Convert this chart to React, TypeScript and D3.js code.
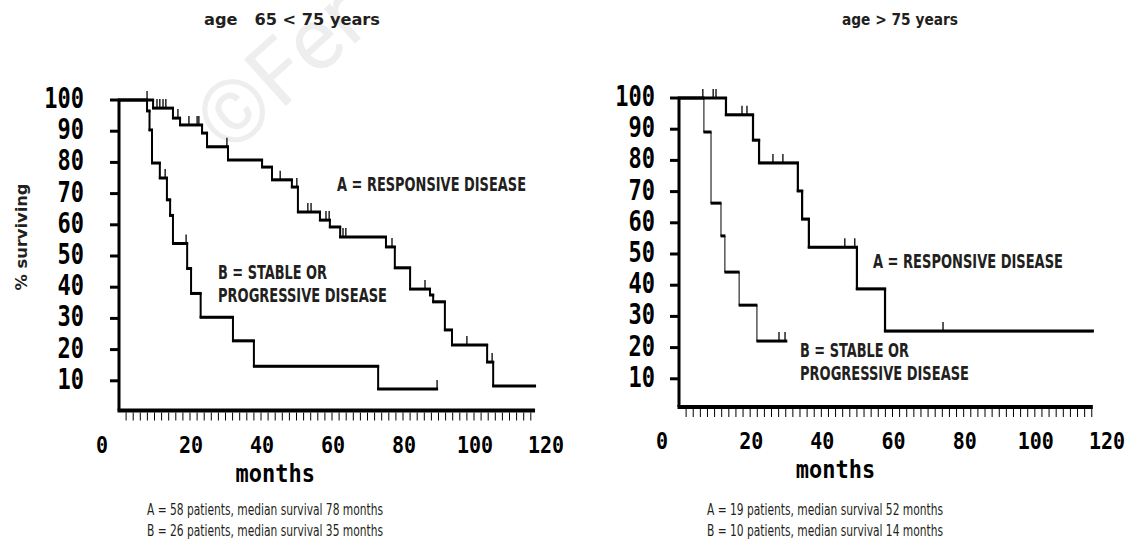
import React, { useEffect, useRef } from "react";
import * as d3 from "d3";

const W = 1131;
const H = 545;

const monthTicks = [0, 20, 40, 60, 80, 100, 120];
const pctTicks = [10, 20, 30, 40, 50, 60, 70, 80, 90, 100];

// age 65 < 75 years
const leftATimes = [9.6, 15.2, 17.2, 23.4, 24.8, 30.7, 40.3, 43.1, 48.7, 50.4, 56.6, 59.4, 62.3, 75.2, 77.7, 82, 87.6, 88.5, 91.8, 93.8, 103.7, 105.4];
const leftASurv = [97.4, 94.2, 92, 89.4, 85, 80.8, 78.5, 74.4, 72.1, 64.1, 61.5, 59.3, 56.1, 52.9, 46.2, 39.4, 37.5, 35.3, 26.3, 21.5, 16, 8.3];
const leftACensor = [7.9, 10.7, 11.5, 12.4, 13.2, 16.6, 19.7, 22, 22.5, 30.4, 45.4, 50.1, 53.2, 54.1, 58.3, 59.2, 63.1, 63.9, 76.9, 86.2, 98, 105.1];
const leftAEnd = 117.2;

const leftBTimes = [7.9, 8.6, 9.3, 11.5, 13.5, 14.4, 15.2, 19.2, 20.3, 23, 32.1, 38, 73];
const leftBSurv = [96.5, 90.4, 79.8, 75, 68, 63, 54, 46, 38, 30.4, 22.8, 14.7, 7.4];
const leftBCensor = [13, 18.9, 89.6];
const leftBEnd = 89.6;

// age > 75 years
const rightATimes = [13.2, 20.8, 22.5, 33.4, 34.6, 36.5, 50, 57.9];
const rightASurv = [94.6, 86.5, 79.2, 70.2, 61.2, 52.2, 38.8, 25.3];
const rightACensor = [6.7, 9.6, 10.4, 17.7, 19.1, 26.4, 29.2, 46.6, 49.4, 74.2];
const rightAEnd = 116.3;

const rightBTimes = [7, 9, 11.8, 12.9, 16.9, 21.9];
const rightBSurv = [89.1, 66.3, 55.8, 44.2, 33.6, 22.1];
const rightBCensor = [28.1, 29.8];
const rightBEnd = 30.3;

const titles = ["age   65 < 75 years", "age > 75 years"];
const labelA = "A = RESPONSIVE DISEASE";
const labelB = ["B = STABLE OR", "PROGRESSIVE DISEASE"];
const leftCaptions = [
  "A = 58 patients, median survival 78 months",
  "B = 26 patients, median survival 35 months",
];
const rightCaptions = [
  "A = 19 patients, median survival 52 months",
  "B = 10 patients, median survival 14 months",
];

const condensed = "'Liberation Sans Narrow', 'DejaVu Sans Condensed', Roboto, sans-serif";
const mono = "'DejaVu Sans Mono', 'Liberation Mono', monospace";

const panels = [
  {
    title: titles[0],
    titleX: 292,
    titleW: 176,
    xRange: [119, 545],
    yRange: [412, 100],
    axisY: 410.5,
    axisEnd: 117.2,
    yLabelRight: 84,
    series: [
      { times: leftATimes, surv: leftASurv, censor: leftACensor, end: leftAEnd, vw: 2 },
      { times: leftBTimes, surv: leftBSurv, censor: leftBCensor, end: leftBEnd, vw: 2 },
    ],
    labelA: [337, 191, 189],
    labelB: [218, 279, 302],
    captions: leftCaptions,
    captionX: 147,
  },
  {
    title: titles[1],
    titleX: 900,
    titleW: 116,
    xRange: [679, 1106],
    yRange: [410, 98],
    axisY: 407,
    axisEnd: 116.3,
    yLabelRight: 655,
    series: [
      { times: rightATimes, surv: rightASurv, censor: rightACensor, end: rightAEnd, vw: 2.2 },
      { times: rightBTimes, surv: rightBSurv, censor: rightBCensor, end: rightBEnd, vw: 1 },
    ],
    labelA: [873, 268, 190],
    labelB: [800, 357, 380],
    captions: rightCaptions,
    captionX: 707,
  },
];

const survAt = (times, surv, t) => {
  let s = 100;
  times.forEach((d, i) => {
    if (d <= t) s = surv[i];
  });
  return s;
};

const App = () => {
  const ref = useRef();

  useEffect(() => {
    const svg = d3.select(ref.current);
    svg.selectAll("*").remove();
    svg.append("rect").attr("width", W).attr("height", H).attr("fill", "#fff");

    // faint copyright watermark (runs off the top edge, as in the source)
    svg.append("text")
      .attr("transform", "translate(229,157) rotate(-42)")
      .attr("font-family", "Roboto, sans-serif")
      .attr("font-size", 88)
      .attr("fill", "#eeeeee")
      .text("©Fer");

    panels.forEach((p) => {
      const x = d3.scaleLinear().domain([0, 120]).range(p.xRange);
      const y = d3.scaleLinear().domain([0, 100]).range(p.yRange);
      const g = svg.append("g");
      const x0 = x(0);

      // title
      g.append("text")
        .attr("x", p.titleX - p.titleW / 2)
        .attr("y", 25)
        .attr("textLength", p.titleW)
        .attr("lengthAdjust", "spacingAndGlyphs")
        .attr("font-family", condensed)
        .attr("font-weight", "bold")
        .attr("font-size", 16)
        .attr("fill", "#231f20")
        .style("white-space", "pre")
        .text(p.title);

      // y axis
      g.append("line")
        .attr("x1", x0).attr("x2", x0)
        .attr("y1", y(100) - 1).attr("y2", p.axisY)
        .attr("stroke", "#000").attr("stroke-width", 3);
      pctTicks.forEach((t) => {
        g.append("line")
          .attr("x1", x0 - 9).attr("x2", x0)
          .attr("y1", y(t)).attr("y2", y(t))
          .attr("stroke", "#000").attr("stroke-width", 3);
        g.append("text")
          .attr("transform", `translate(${p.yLabelRight},${y(t) + 8}) scale(1,1.3)`)
          .attr("text-anchor", "end")
          .attr("font-family", mono)
          .attr("font-weight", "bold")
          .attr("font-size", 22)
          .attr("fill", "#000")
          .text(t);
      });

      // x axis
      g.append("line")
        .attr("x1", x0 - 1.5).attr("x2", x(p.axisEnd))
        .attr("y1", p.axisY).attr("y2", p.axisY)
        .attr("stroke", "#000").attr("stroke-width", 4);
      d3.range(2, p.axisEnd, 2).forEach((t) => {
        g.append("line")
          .attr("x1", x(t)).attr("x2", x(t))
          .attr("y1", p.axisY + 2).attr("y2", p.axisY + 10)
          .attr("stroke", "#000").attr("stroke-width", 1);
      });
      monthTicks.forEach((t) => {
        const lx = t === 0 ? x0 - 17 : x(t) + 1;
        g.append("text")
          .attr("transform", `translate(${lx},${p.axisY + 42}) scale(1,1.15)`)
          .attr("text-anchor", "middle")
          .attr("font-family", mono)
          .attr("font-weight", "bold")
          .attr("font-size", 20)
          .attr("fill", "#000")
          .text(t);
      });
      g.append("text")
        .attr("transform", `translate(${x(44)},${p.axisY + 71}) scale(1,1.15)`)
        .attr("text-anchor", "middle")
        .attr("font-family", mono)
        .attr("font-weight", "bold")
        .attr("font-size", 22)
        .attr("fill", "#000")
        .text("months");

      // survival curves
      p.series.forEach((s) => {
        const pts = [[0, 100]];
        s.times.forEach((t, i) => pts.push([t, s.surv[i]]));
        pts.push([s.end, s.surv[s.surv.length - 1]]);
        const stepLine = d3.line()
          .x((d) => x(d[0]))
          .y((d) => y(d[1]))
          .curve(d3.curveStepAfter);
        g.append("path")
          .attr("d", stepLine(pts))
          .attr("fill", "none")
          .attr("stroke", "#000")
          .attr("stroke-width", s.vw);
        // thick horizontal runs
        pts.slice(0, -1).forEach((d, i) => {
          const next = pts[i + 1];
          g.append("line")
            .attr("x1", x(d[0]) - s.vw / 2).attr("x2", x(next[0]) + s.vw / 2)
            .attr("y1", y(d[1])).attr("y2", y(d[1]))
            .attr("stroke", "#000").attr("stroke-width", 3);
        });
        s.censor.forEach((c) => {
          const v = survAt(s.times, s.surv, c);
          g.append("line")
            .attr("x1", x(c)).attr("x2", x(c))
            .attr("y1", y(v)).attr("y2", y(v) - 9)
            .attr("stroke", "#000").attr("stroke-width", 1.3);
        });
      });

      // curve labels
      const lab = (txt, lx, ly, w) =>
        g.append("text")
          .attr("x", lx).attr("y", ly)
          .attr("textLength", w)
          .attr("lengthAdjust", "spacingAndGlyphs")
          .attr("font-family", condensed)
          .attr("font-weight", "bold")
          .attr("font-size", 19)
          .attr("fill", "#231f20")
          .text(txt);
      lab(labelA, p.labelA[0], p.labelA[1], p.labelA[2]);
      lab(labelB[0], p.labelB[0], p.labelB[1], 109);
      lab(labelB[1], p.labelB[0], p.labelB[2], 169);

      // captions
      p.captions.forEach((c, i) => {
        g.append("text")
          .attr("x", p.captionX).attr("y", 515 + i * 21)
          .attr("textLength", 236)
          .attr("lengthAdjust", "spacingAndGlyphs")
          .attr("font-family", condensed)
          .attr("font-size", 16)
          .attr("fill", "#231f20")
          .text(c);
      });
    });

    // y axis title
    svg.append("text")
      .attr("transform", "translate(27,237) rotate(-90)")
      .attr("text-anchor", "middle")
      .attr("textLength", 107)
      .attr("lengthAdjust", "spacingAndGlyphs")
      .attr("font-family", condensed)
      .attr("font-weight", "bold")
      .attr("font-size", 16)
      .attr("fill", "#231f20")
      .text("% surviving");
  }, []);

  return (
    <svg
      ref={ref}
      width={W}
      height={H}
      style={{ position: "absolute", left: 0, top: 0 }}
    />
  );
};

export default App;
